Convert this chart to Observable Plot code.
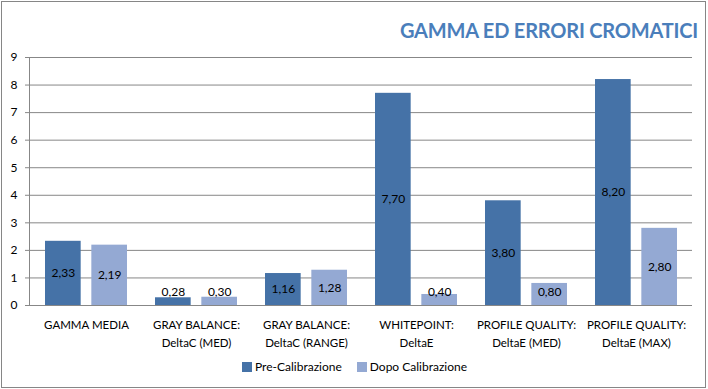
<!DOCTYPE html>
<html><head><meta charset="utf-8">
<script src="https://cdn.jsdelivr.net/npm/d3@7"></script>
<script src="https://cdn.jsdelivr.net/npm/@observablehq/plot@0.6"></script>
<style>
body{margin:0;background:#fff;}
#wrap{position:relative;width:708px;height:389px;font-family:Lato,"Liberation Sans",sans-serif;overflow:hidden;}
#border{position:absolute;left:1px;top:1px;width:705px;height:387px;border:1px solid #868686;box-sizing:border-box;pointer-events:none;}
#title{position:absolute;right:10px;top:18px;font-weight:bold;font-size:20px;color:#4A7EBB;white-space:nowrap;letter-spacing:-0.2px;}
#legend{position:absolute;top:359px;left:242px;font-size:12px;color:#000;display:flex;gap:15px;white-space:nowrap;}
#legend .item{display:flex;align-items:center;}
#legend .sw{width:10px;height:10px;margin-right:3px;display:inline-block;}
#chart{position:absolute;left:0;top:0;}
</style>
</head><body>
<div id="wrap">
  <div id="chart"></div>
  <div id="title">GAMMA ED ERRORI CROMATICI</div>
  <div id="legend"></div>
  <div id="border"></div>
</div>
<script>
const titleText = "GAMMA ED ERRORI CROMATICI";
const categories = [
  "GAMMA MEDIA",
  "GRAY BALANCE:\nDeltaC (MED)",
  "GRAY BALANCE:\nDeltaC (RANGE)",
  "WHITEPOINT:\nDeltaE",
  "PROFILE QUALITY:\nDeltaE (MED)",
  "PROFILE QUALITY:\nDeltaE (MAX)"
];
const seriesNames = ["Pre-Calibrazione", "Dopo Calibrazione"];
const preValues = [2.33, 0.28, 1.16, 7.70, 3.80, 8.20];
const dopoValues = [2.19, 0.30, 1.28, 0.40, 0.80, 2.80];
const seriesColors = ["#4572A7", "#94A9D3"];
const yTicks = [0, 1, 2, 3, 4, 5, 6, 7, 8, 9];

const fmt = v => v.toFixed(2).replace(".", ",");
const preData = categories.map((c, i) => ({cat: c, v: preValues[i]}));
const dopoData = categories.map((c, i) => ({cat: c, v: dopoValues[i]}));
const labelY = d => Math.max(d.v / 2, 0.48);

const chart = Plot.plot({
  width: 708,
  height: 389,
  marginLeft: 29,
  marginRight: 16,
  marginTop: 57,
  marginBottom: 84,
  style: {fontFamily: "Lato, 'Liberation Sans', sans-serif", fontSize: "12px", color: "#000", background: "transparent"},
  x: {domain: categories, padding: 0, axis: null},
  y: {domain: [0, 9], ticks: yTicks, axis: null},
  marks: [
    Plot.gridY(yTicks, {stroke: "#878787", strokeOpacity: 1}),
    Plot.barY(preData, {x: "cat", y: "v", fill: seriesColors[0], insetLeft: 14, insetRight: 60.33}),
    Plot.barY(dopoData, {x: "cat", y: "v", fill: seriesColors[1], insetLeft: 60.33, insetRight: 14}),
    Plot.frame({anchor: "left", stroke: "#878787"}),
    Plot.text(preData, {x: "cat", y: labelY, text: d => fmt(d.v), dx: -23.2, fill: "#000", fontSize: 12}),
    Plot.text(dopoData, {x: "cat", y: labelY, text: d => fmt(d.v), dx: 23.2, fill: "#000", fontSize: 12}),
    Plot.axisY(yTicks, {tickSize: 4, tickPadding: 8, stroke: "#878787", label: null, fontSize: 12, tickFormat: d => String(d)}),
    Plot.axisX({tickSize: 0, tickPadding: 10, label: null, fontSize: 11.5, lineHeight: 1.6})
  ]
});
document.getElementById("chart").appendChild(chart);
document.getElementById("title").textContent = titleText;

const legend = document.getElementById("legend");
seriesNames.forEach((name, i) => {
  const item = document.createElement("div");
  item.className = "item";
  const sw = document.createElement("span");
  sw.className = "sw";
  sw.style.background = seriesColors[i];
  const t = document.createElement("span");
  t.textContent = name;
  item.appendChild(sw);
  item.appendChild(t);
  legend.appendChild(item);
});
</script>
</body></html>
